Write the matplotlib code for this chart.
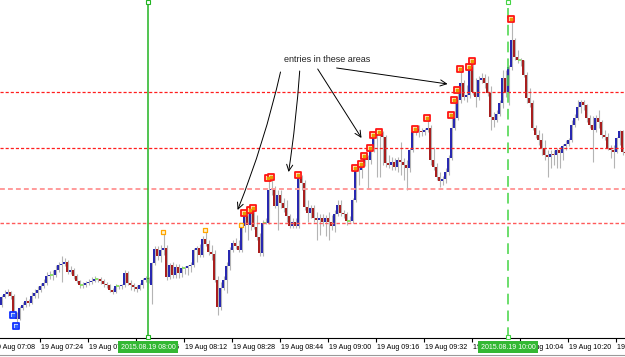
import numpy as np
import matplotlib
matplotlib.use("Agg")
import matplotlib.pyplot as plt
import matplotlib.transforms as mtransforms
from matplotlib.lines import Line2D

# 1-minute candles, 19 Aug 07:11 .. 10:39 (price in points)
opens = [35, 43, 46, 48, 44, 27, 21, 32, 35, 39,
         37, 44, 47, 50, 54, 57, 64, 65, 65, 70,
         75, 76, 78, 68, 70, 64, 59, 55, 55, 57,
         58, 59, 61, 61, 59, 56, 55, 50, 48, 54,
         54, 55, 67, 57, 55, 53, 51, 55, 60, 62,
         55, 77, 91, 84, 90, 92, 63, 75, 65, 73,
         67, 72, 72, 74, 75, 90, 92, 85, 101, 96,
         88, 86, 60, 33, 52, 60, 74, 90, 97, 94,
         90, 114, 124, 115, 128, 113, 103, 87, 117, 117,
         150, 151, 134, 145, 137, 132, 124, 114, 118, 114,
         163, 157, 133, 127, 132, 122, 120, 122, 118, 122,
         118, 114, 126, 135, 127, 126, 119, 119, 140, 172,
         170, 177, 183, 180, 192, 204, 206, 207, 203, 177,
         175, 178, 173, 180, 178, 175, 172, 190, 208, 211,
         209, 208, 210, 212, 180, 173, 163, 159, 161, 168,
         182, 212, 222, 240, 257, 243, 245, 273, 248, 243,
         260, 262, 257, 247, 223, 220, 226, 237, 262, 248,
         273, 300, 283, 280, 280, 265, 242, 237, 212, 205,
         200, 192, 185, 183, 186, 185, 190, 187, 194, 196,
         200, 215, 222, 233, 238, 235, 222, 215, 210, 222,
         218, 205, 203, 192, 190, 188, 202, 209, 188]
highs = [45, 50, 51, 49, 46, 28, 34, 38, 43, 41,
         48, 51, 54, 57, 61, 68, 69, 70, 75, 78,
         84, 82, 80, 74, 72, 66, 60, 58, 59, 61,
         63, 64, 62, 63, 61, 58, 56, 52, 56, 55,
         56, 70, 69, 60, 57, 55, 57, 62, 64, 63,
         78, 94, 94, 95, 106, 95, 77, 78, 76, 76,
         74, 74, 75, 78, 92, 94, 96, 104, 108, 100,
         95, 90, 64, 58, 64, 78, 93, 100, 102, 100,
         117, 128, 129, 132, 134, 125, 107, 120, 122, 162,
         163, 154, 150, 150, 142, 140, 126, 122, 122, 166,
         165, 160, 140, 135, 135, 128, 126, 126, 125, 128,
         125, 130, 140, 140, 130, 128, 124, 142, 175, 175,
         178, 186, 185, 194, 207, 209, 210, 209, 205, 185,
         183, 182, 183, 198, 182, 180, 192, 210, 213, 215,
         212, 212, 223, 215, 193, 177, 168, 164, 172, 185,
         226, 240, 251, 272, 260, 255, 275, 280, 262, 264,
         267, 266, 264, 254, 228, 230, 240, 270, 270, 275,
         322, 302, 290, 282, 280, 268, 252, 240, 215, 210,
         207, 200, 190, 190, 190, 192, 193, 196, 200, 202,
         220, 226, 240, 240, 240, 236, 225, 224, 225, 230,
         220, 210, 207, 195, 195, 203, 210, 210, 192]
lows = [33, 42, 44, 41, 24, 17, 20, 30, 33, 34,
        36, 42, 42, 48, 52, 55, 61, 60, 63, 68,
        58, 74, 66, 66, 61, 57, 52, 52, 53, 55,
        56, 58, 58, 56, 53, 52, 48, 46, 47, 51,
        51, 53, 55, 50, 49, 48, 50, 52, 58, 57,
        36, 75, 80, 78, 85, 60, 61, 62, 62, 62,
        63, 66, 65, 68, 73, 78, 83, 83, 94, 85,
        80, 58, 25, 30, 50, 47, 70, 88, 91, 88,
        88, 108, 100, 110, 111, 100, 84, 84, 116, 116,
        145, 132, 110, 132, 128, 118, 112, 112, 112, 112,
        150, 130, 118, 122, 118, 100, 105, 114, 104, 100,
        110, 108, 124, 124, 122, 115, 118, 117, 138, 155,
        162, 174, 152, 176, 188, 163, 163, 175, 173, 172,
        170, 170, 168, 165, 160, 150, 168, 188, 205, 203,
        204, 205, 208, 175, 170, 160, 153, 155, 157, 165,
        180, 210, 220, 237, 240, 238, 242, 245, 233, 240,
        257, 252, 244, 210, 213, 218, 224, 232, 243, 235,
        270, 280, 277, 274, 263, 237, 233, 210, 202, 195,
        185, 180, 163, 172, 175, 172, 172, 180, 190, 194,
        198, 213, 220, 227, 230, 218, 212, 178, 208, 212,
        202, 200, 190, 182, 172, 187, 195, 185, 184]
closes = [43, 46, 48, 44, 27, 21, 32, 35, 39, 37,
          44, 47, 50, 54, 57, 64, 65, 65, 70, 75,
          76, 78, 68, 70, 64, 59, 55, 55, 57, 58,
          59, 61, 61, 59, 56, 55, 50, 48, 54, 54,
          55, 67, 57, 55, 53, 51, 55, 60, 62, 61,
          77, 91, 84, 90, 92, 63, 75, 65, 73, 67,
          72, 72, 74, 75, 90, 92, 85, 101, 96, 88,
          86, 60, 33, 52, 60, 74, 90, 97, 94, 90,
          114, 124, 115, 128, 113, 103, 87, 117, 117, 150,
          151, 134, 145, 137, 132, 124, 114, 118, 114, 163,
          157, 133, 127, 132, 122, 120, 122, 118, 122, 118,
          114, 126, 135, 127, 126, 119, 119, 140, 172, 170,
          177, 183, 180, 192, 204, 206, 207, 203, 177, 175,
          178, 173, 180, 178, 175, 172, 190, 208, 211, 209,
          208, 210, 212, 180, 173, 163, 159, 161, 168, 182,
          212, 222, 240, 257, 243, 245, 273, 248, 243, 260,
          262, 257, 247, 223, 220, 226, 237, 262, 248, 273,
          300, 283, 280, 280, 265, 242, 237, 212, 205, 200,
          192, 185, 183, 186, 185, 190, 187, 194, 196, 200,
          215, 222, 233, 238, 235, 222, 215, 210, 222, 218,
          205, 203, 192, 190, 188, 202, 209, 188, 187]

# time axis: labels every 16 bars, first one (07:08) is 3 bars before the view
tick_idx = [-3, 13, 29, 45, 61, 77, 93, 109, 125, 141, 157, 173, 189, 205]
tick_labels = ['19 Aug 07:08', '19 Aug 07:24', '19 Aug 07:40', '19 Aug 07:56',
               '19 Aug 08:12', '19 Aug 08:28', '19 Aug 08:44', '19 Aug 09:00',
               '19 Aug 09:16', '19 Aug 09:32', '19 Aug 09:48', '19 Aug 10:04',
               '19 Aug 10:20', '19 Aug 10:36']

# entry markers (bar index, price)
entry_idx = [81, 83, 84, 89, 90, 99, 118, 120, 121, 123, 124, 126,
             138, 142, 150, 151, 152, 153, 156, 157, 170]
entry_price = [127, 130, 132, 162, 163, 165, 172, 176, 184, 192, 205, 208,
               211, 222, 225, 240, 250, 271, 273, 279, 321]
sell_idx = [4, 5]
sell_price = [25, 14]
pending_idx = [54, 68, 80]
pending_price = [108, 110, 115]

levels = [248, 192, 151, 117]
level_colors = ['#ff1e1e', '#ff1e1e', '#ff9a9a', '#ff5a5a']
level_widths = [0.9, 0.9, 1.4, 1.0]

vline_idx = [49, 169]
vline_labels = ['2015.08.19 08:00', '2015.08.19 10:00']

o = np.array(opens)
h = np.array(highs)
l = np.array(lows)
c = np.array(closes)
x = np.arange(len(c))

fig = plt.figure(figsize=(6.25, 3.57), dpi=100)
ax = fig.add_axes([0, 19 / 357, 1, 338 / 357])

# wicks then bodies
ax.vlines(x + 0.3, l, h, color='#b4b4b4', lw=0.8, zorder=2)
up = c > o
down = c < o
doji = c == o
bottom = np.minimum(o, c)
height = np.maximum(np.abs(c - o), 1)
ax.bar(x[up], height[up], bottom=bottom[up], width=0.7, color='#2828b0', zorder=3)
ax.bar(x[down], height[down], bottom=bottom[down], width=0.7, color='#a81e1e', zorder=3)
ax.hlines(c[doji], x[doji] - 0.4, x[doji] + 0.6, color='#86e060', lw=1.3, zorder=3)

# horizontal levels
for v, col, w in zip(levels, level_colors, level_widths):
    ax.axhline(v, color=col, lw=w, dashes=(2.5, 1.6), zorder=4)

# vertical time lines
ax.axvline(vline_idx[0], color='#22b422', lw=1.1, zorder=5)
ax.axvline(vline_idx[1], color='#44d444', lw=1.1, dashes=(7, 4), zorder=5)
for vi, col in zip(vline_idx, ['#22b422', '#44d444']):
    ax.plot([vi, vi], [338.5, 3.5], 's', ms=3.2, mfc='white', mec=col, mew=0.8,
            clip_on=False, zorder=6)

# markers
ax.scatter(entry_idx, entry_price, marker='s', s=24, facecolor='#ffe6b0',
           edgecolor='#ff1414', linewidths=1.3, zorder=7)
ax.scatter(entry_idx, entry_price, marker='s', s=2.5, color='#e89a00', zorder=8)
ax.scatter(sell_idx, sell_price, marker='s', s=24, facecolor='#d8e4ff',
           edgecolor='#1030ff', linewidths=1.3, zorder=7)
ax.scatter(sell_idx, sell_price, marker='s', s=2.5, color='#3060ff', zorder=8)
ax.scatter(pending_idx, pending_price, marker='s', s=9, facecolor='#fff4d0',
           edgecolor='#ffa500', linewidths=0.9, zorder=7)

# annotation
ax.text(108.7, 281, 'entries in these areas', ha='center', va='center',
        fontsize=6.5, color='#222222', family='Liberation Sans', zorder=9)
arrows = [((93.3, 268), (79.0, 130), -0.04),
          ((99.7, 269), (96.0, 168), -0.02),
          ((105.7, 271), (120.3, 202), 0.0),
          ((112.0, 272), (149.0, 256), 0.0)]
for start, end, rad in arrows:
    ax.annotate('', xy=end, xytext=start,
                arrowprops=dict(arrowstyle='->,head_length=0.45,head_width=0.22',
                                lw=0.7, color='black', shrinkA=0, shrinkB=0,
                                connectionstyle=f'arc3,rad={rad}'),
                zorder=9)

# axis styling
for side in ['top', 'left', 'right']:
    ax.spines[side].set_visible(False)
ax.spines['bottom'].set_linewidth(0.8)
ax.set_yticks([])
ax.set_xticks(tick_idx)
ax.set_xticklabels([])
ax.tick_params(axis='x', length=3, width=0.8, direction='out')
# limits after set_xticks, which would widen the view to the -3 tick
ax.set_xlim(-0.2, 208.13)
ax.set_ylim(2, 340)

trans = mtransforms.blended_transform_factory(ax.transData, ax.transAxes)
for ti, lab in zip(tick_idx, tick_labels):
    ax.text(ti + 0.4, -0.027, lab, transform=trans, ha='left', va='center',
            fontsize=5.1, family='Liberation Sans', clip_on=False, zorder=10)
for vi, lab in zip(vline_idx, vline_labels):
    ax.text(vi + 0.2, -0.027, lab, transform=trans, ha='center', va='center',
            fontsize=5.0, family='Liberation Sans', color='white', clip_on=False,
            bbox=dict(boxstyle='square,pad=0.35', fc='#33b833', ec='none'),
            zorder=11)

fig.add_artist(Line2D([0, 1], [2 / 357, 2 / 357], color='#9a9a9a', lw=0.8))

fig.savefig('out.png', dpi=100)
